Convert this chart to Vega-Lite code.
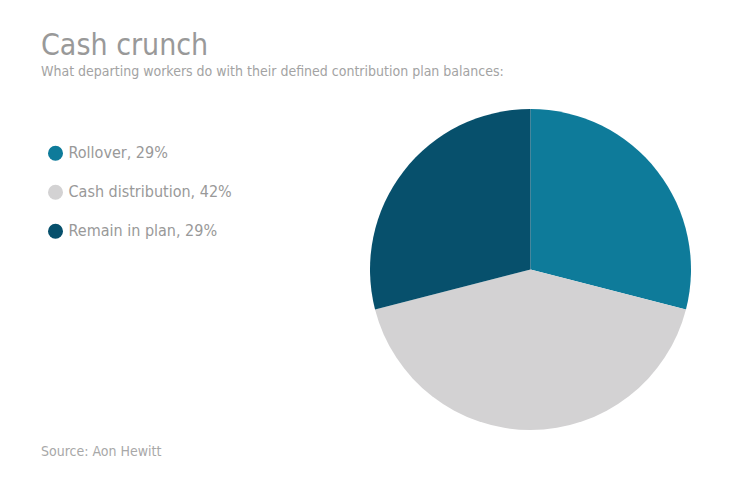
{
  "$schema": "https://vega.github.io/schema/vega-lite/v6.json",
  "autosize": {"type": "pad"},
  "padding": {"left": 41, "top": 31, "right": 48, "bottom": 20},
  "background": "white",
  "bounds": "flush",
  "title": {
    "text": "Cash crunch",
    "subtitle": "What departing workers do with their defined contribution plan balances:",
    "anchor": "start",
    "frame": "group",
    "dx": -329,
    "offset": 30,
    "font": "DejaVu Sans Condensed, DejaVu Sans",
    "fontSize": 30,
    "fontWeight": "normal",
    "color": "#999999",
    "subtitleFont": "DejaVu Sans Condensed, DejaVu Sans",
    "subtitleFontSize": 14,
    "subtitleColor": "#a3a3a3",
    "subtitlePadding": 4
  },
  "vconcat": [
    {
      "width": 321,
      "height": 321,
      "title": {
        "text": "Source: Aon Hewitt",
        "orient": "bottom",
        "anchor": "start",
        "frame": "group",
        "dx": -329,
        "offset": 14.5,
        "font": "DejaVu Sans Condensed, DejaVu Sans",
        "fontSize": 14,
        "fontWeight": "normal",
        "color": "#a8a8a8"
      },
      "data": {
        "values": [
          {"category": "Rollover", "label": "Rollover, 29%", "share": 29, "order": 1},
          {"category": "Cash distribution", "label": "Cash distribution, 42%", "share": 42, "order": 2},
          {"category": "Remain in plan", "label": "Remain in plan, 29%", "share": 29, "order": 3}
        ]
      },
      "mark": {"type": "arc"},
      "encoding": {
        "theta": {"field": "share", "type": "quantitative", "stack": true},
        "order": {"field": "order", "type": "quantitative"},
        "color": {
          "field": "label",
          "type": "nominal",
          "sort": ["Rollover, 29%", "Cash distribution, 42%", "Remain in plan, 29%"],
          "scale": {
            "domain": ["Rollover, 29%", "Cash distribution, 42%", "Remain in plan, 29%"],
            "range": ["#0e7b9a", "#d3d2d3", "#07506c"]
          },
          "legend": {
            "orient": "none",
            "legendX": -322.5,
            "legendY": 36.2,
            "title": null,
            "symbolType": "circle",
            "symbolSize": 225,
            "symbolStrokeWidth": 0,
            "labelFont": "DejaVu Sans Condensed, DejaVu Sans",
            "labelFontSize": 16,
            "labelColor": "#999999",
            "labelOffset": 5,
            "labelLimit": 400,
            "rowPadding": 23,
            "padding": 0
          }
        }
      }
    }
  ],
  "config": {"view": {"stroke": null}}
}
